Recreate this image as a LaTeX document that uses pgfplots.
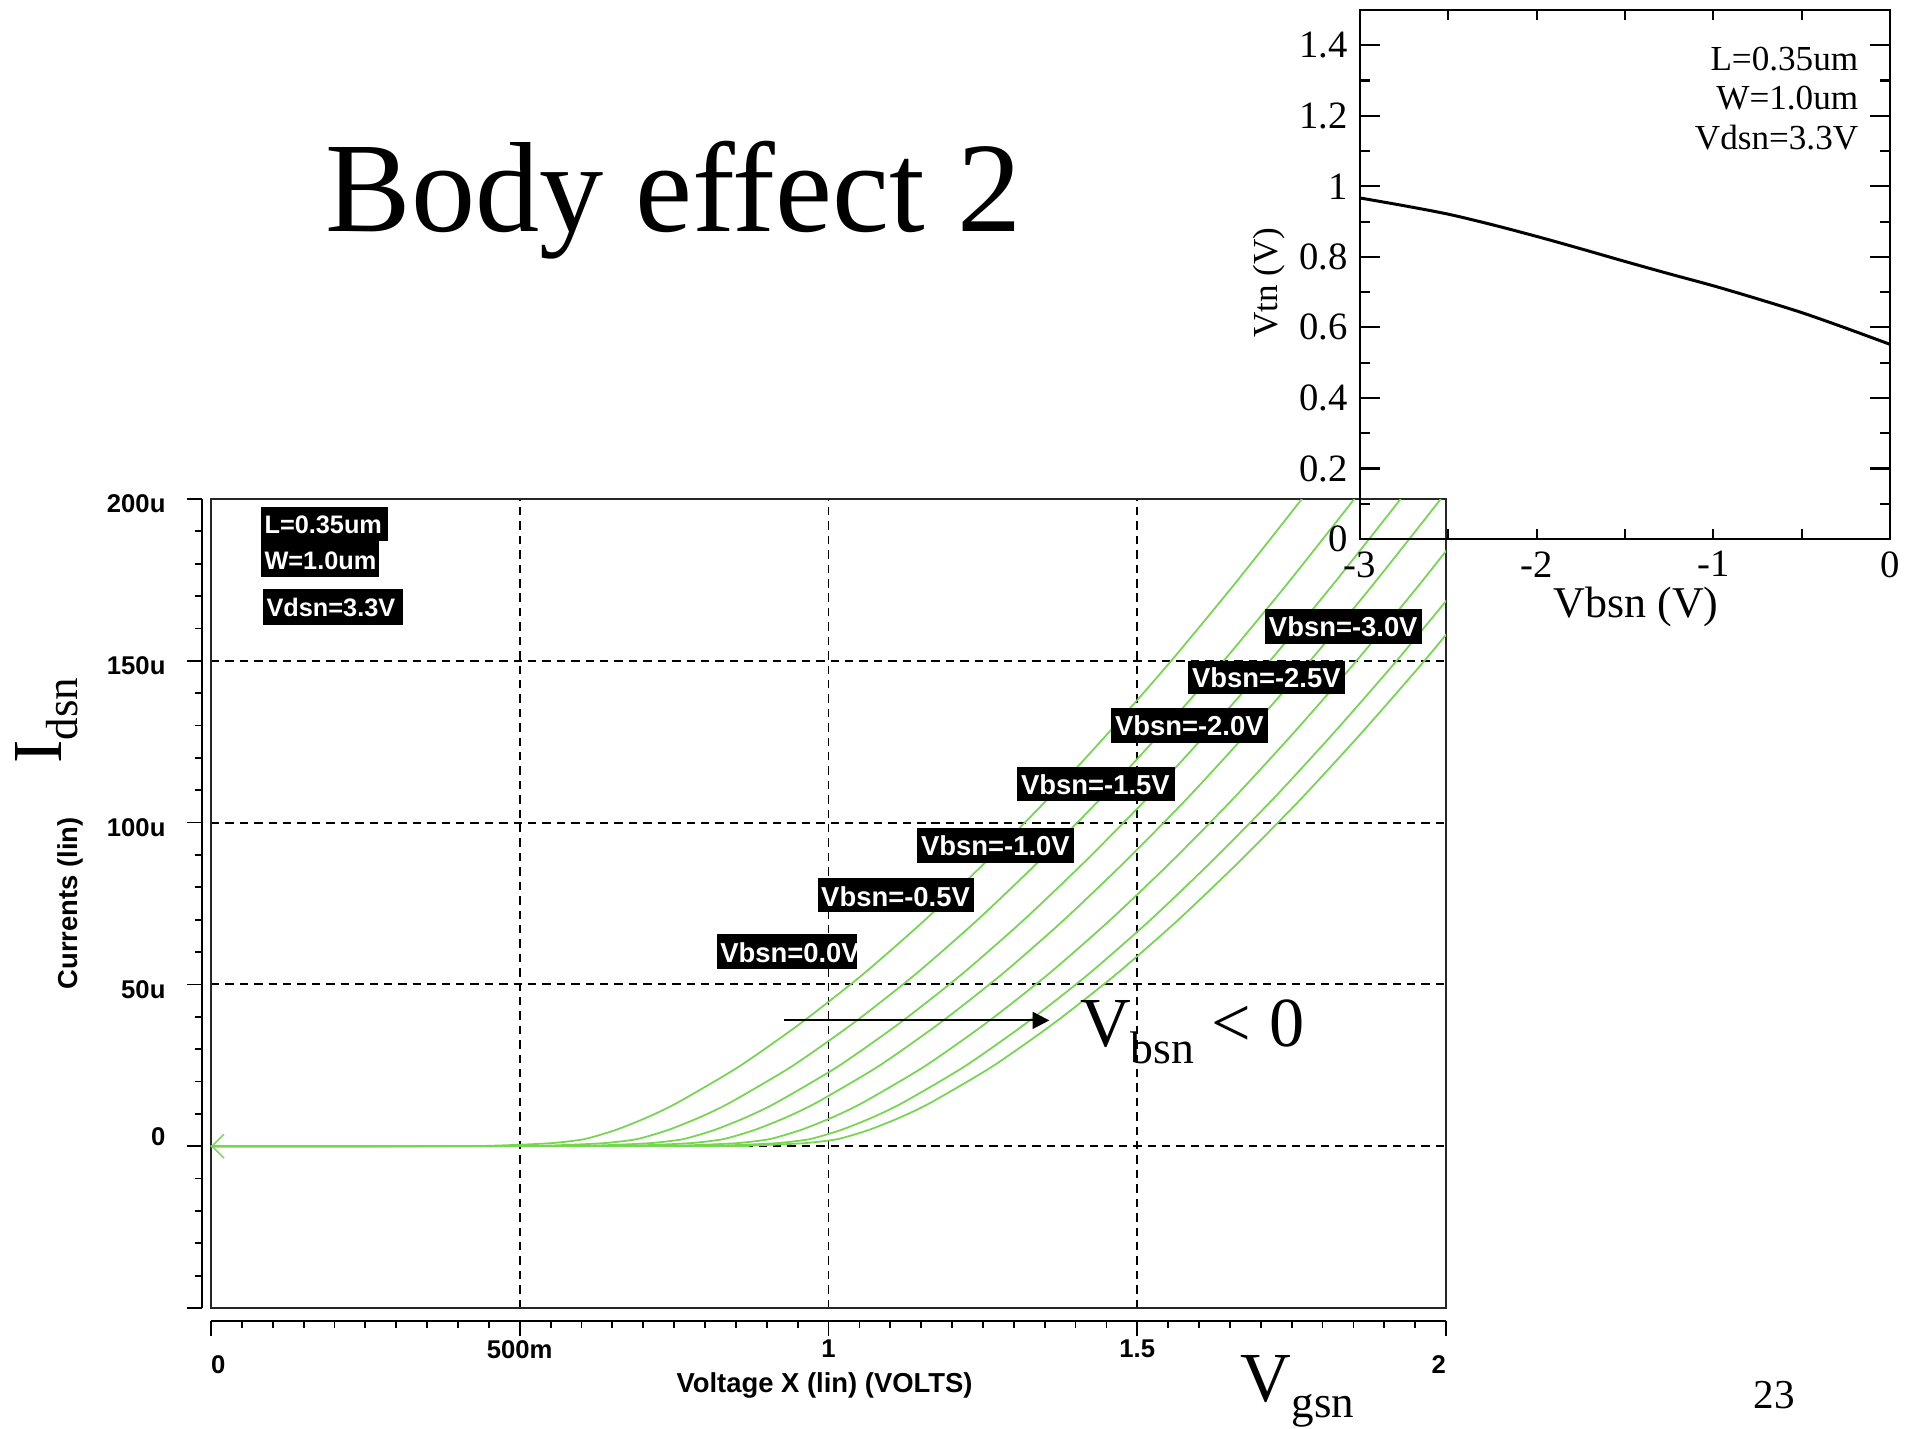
\documentclass[border=0pt]{standalone}
\usepackage{fontspec}
\setmainfont{Liberation Serif}
\newfontfamily\hs{Liberation Sans}
\usepackage{pgfplots}
\pgfplotsset{compat=1.18}
\usetikzlibrary{arrows.meta}

\definecolor{trace}{RGB}{118,214,80}
% HSPICE-style fonts
\newcommand{\hstick}{\hs\bfseries\fontsize{7.3}{8}\selectfont}
\newcommand{\hsbox}{\hs\bfseries\fontsize{7.8}{9}\selectfont}
\newcommand{\hssmall}{\hs\bfseries\fontsize{7.2}{8}\selectfont}

\begin{document}
\begin{tikzpicture}
\fill[white] (0,0) rectangle (19.21cm,-14.29cm);
\path[use as bounding box] (0,0) rectangle (19.21cm,-14.29cm);

% ---------- main Ids-Vgs plot ----------
\begin{axis}[
  at={(2.11cm,-13.08cm)}, anchor=south west,
  scale only axis, width=12.35cm, height=8.09cm,
  xmin=0, xmax=2, ymin=-50, ymax=200,
  xtick={0.5,1,1.5}, ytick={0,50,100,150},
  xticklabels={}, yticklabels={},
  major tick length=0pt,
  grid=major,
  grid style={black, line width=0.55pt, dash pattern=on 2.4pt off 1.7pt},
  axis line style={line width=0.75pt, black!85},
]
\addplot[trace, line width=0.5pt, smooth, tension=0.4, {Straight Barb[length=3.4pt,width=6.8pt,line width=0.4pt]}-]
  coordinates {(0,0)(0.405,0.05)(0.455,0.15)(0.505,0.5)(0.555,1.0)(0.605,2.2)(0.655,5.0)(0.705,8.8)(0.755,13.4)(0.855,24.6)(0.955,38.0)(1.055,53.0)(1.155,69.7)(1.255,87.9)(1.355,107.3)(1.455,128.1)(1.555,150.0)(1.655,173.1)(1.755,197.2)(1.805,209.6)};
\addplot[trace, line width=0.5pt, smooth, tension=0.4]
  coordinates {(0,0)(0.49,0.05)(0.54,0.15)(0.59,0.5)(0.64,1.0)(0.69,2.2)(0.74,5.0)(0.79,8.8)(0.84,13.4)(0.94,24.6)(1.04,38.0)(1.14,53.0)(1.24,69.7)(1.34,87.9)(1.44,107.3)(1.54,128.1)(1.64,150.0)(1.74,173.1)(1.84,197.2)(1.89,209.6)};
\addplot[trace, line width=0.5pt, smooth, tension=0.4]
  coordinates {(0,0)(0.565,0.05)(0.615,0.15)(0.665,0.5)(0.715,1.0)(0.765,2.2)(0.815,5.0)(0.865,8.8)(0.915,13.4)(1.015,24.6)(1.115,38.0)(1.215,53.0)(1.315,69.7)(1.415,87.9)(1.515,107.3)(1.615,128.1)(1.715,150.0)(1.815,173.1)(1.915,197.2)(1.965,209.6)};
\addplot[trace, line width=0.5pt, smooth, tension=0.4]
  coordinates {(0,0)(0.63,0.05)(0.68,0.15)(0.73,0.5)(0.78,1.0)(0.83,2.2)(0.88,5.0)(0.93,8.8)(0.98,13.4)(1.08,24.6)(1.18,38.0)(1.28,53.0)(1.38,69.7)(1.48,87.9)(1.58,107.3)(1.68,128.1)(1.78,150.0)(1.88,173.1)(1.98,197.2)(2.03,209.6)};
\addplot[trace, line width=0.5pt, smooth, tension=0.4]
  coordinates {(0,0)(0.705,0.05)(0.755,0.15)(0.805,0.5)(0.855,1.0)(0.905,2.2)(0.955,5.0)(1.005,8.8)(1.055,13.4)(1.155,24.6)(1.255,38.0)(1.355,53.0)(1.455,69.7)(1.555,87.9)(1.655,107.3)(1.755,128.1)(1.855,150.0)(1.955,173.1)(2.055,197.2)};
\addplot[trace, line width=0.5pt, smooth, tension=0.4]
  coordinates {(0,0)(0.77,0.05)(0.82,0.15)(0.87,0.5)(0.92,1.0)(0.97,2.2)(1.02,5.0)(1.07,8.8)(1.12,13.4)(1.22,24.6)(1.32,38.0)(1.42,53.0)(1.52,69.7)(1.62,87.9)(1.72,107.3)(1.82,128.1)(1.92,150.0)(2.02,173.1)};
\addplot[trace, line width=0.5pt, smooth, tension=0.4]
  coordinates {(0,0)(0.815,0.05)(0.865,0.15)(0.915,0.5)(0.965,1.0)(1.015,2.2)(1.065,5.0)(1.115,8.8)(1.165,13.4)(1.265,24.6)(1.365,38.0)(1.465,53.0)(1.565,69.7)(1.665,87.9)(1.765,107.3)(1.865,128.1)(1.965,150.0)(2.065,173.1)};
\end{axis}

% y ruler
\begin{axis}[
  at={(2.02cm,-13.08cm)}, anchor=south west,
  scale only axis, width=0.5cm, height=8.09cm,
  xmin=0, xmax=1, ymin=-50, ymax=200,
  axis x line=none, axis y line=left,
  axis line style={-, line width=0.6pt},
  tick style={line width=0.5pt, black},
  tick align=outside,
  major tick length=4.27pt, minor tick length=2pt,
  ytick={-50,0,50,100,150,200},
  yticklabels={,,50u,100u,150u,200u},
  minor ytick={-40,-30,-20,-10,10,20,30,40,60,70,80,90,110,120,130,140,160,170,180,190},
  yticklabel style={font=\hstick, anchor=east, xshift=-2.6pt, yshift=-1.4pt},
  extra y ticks={0}, extra y tick labels={0},
  extra y tick style={grid=none, yticklabel style={yshift=4pt}},
]
\end{axis}

% x ruler
\begin{axis}[
  at={(2.11cm,-13.21cm)}, anchor=south west,
  scale only axis, width=12.35cm, height=0.5cm,
  xmin=0, xmax=2, ymin=0, ymax=1,
  axis y line=none, axis x line=bottom,
  axis line style={-, line width=0.6pt},
  tick style={line width=0.5pt, black},
  tick align=outside,
  major tick length=4.27pt, minor tick length=2pt,
  xtick={0.5,1,1.5}, xticklabels={500m,1,1.5},
  minor xtick={0.05,0.1,0.15,0.2,0.25,0.3,0.35,0.4,0.45,0.55,0.6,0.65,0.7,0.75,0.8,0.85,0.9,0.95,1.05,1.1,1.15,1.2,1.25,1.3,1.35,1.4,1.45,1.55,1.6,1.65,1.7,1.75,1.8,1.85,1.9,1.95},
  xticklabel style={font=\hstick, inner sep=1pt},
  extra x ticks={0,2}, extra x tick labels={\makebox[0pt][l]{0},\makebox[0pt][r]{2}},
  extra x tick style={grid=none, xticklabel style={yshift=-4.5pt}},
]
\end{axis}

% ---------- inset Vtn-Vbs plot ----------
\begin{axis}[
  at={(13.60cm,-5.39cm)}, anchor=south west,
  scale only axis, width=5.30cm, height=5.29cm,
  xmin=-3, xmax=0, ymin=0, ymax=1.5,
  xtick={-3,-2,-1,0}, minor xtick={-3,-2.5,-2,-1.5,-1,-0.5,0},
  ytick={0,0.2,0.4,0.6,0.8,1,1.2,1.4},
  minor ytick={0.1,0.3,0.5,0.7,0.9,1.1,1.3},
  major tick length=5.7pt, minor tick length=2.85pt,
  every major x tick/.append style={draw=none},
  tick style={line width=0.6pt, black},
  axis line style={line width=0.74pt},
  ticklabel style={font=\fontsize{11}{12}\selectfont},
  /pgf/number format/assume math mode=true,
]
\addplot[black, line width=0.85pt, smooth]
  coordinates {(-3,0.967)(-2.75,0.945)(-2.5,0.921)(-2.25,0.891)(-2.0,0.858)(-1.75,0.823)(-1.5,0.787)(-1.25,0.752)(-1.0,0.718)(-0.75,0.681)(-0.5,0.642)(-0.25,0.598)(0,0.552)};
\end{axis}

% ---------- texts and annotations (pixel units) ----------
\begin{scope}[x=0.01cm, y=-0.01cm]
\node[anchor=base west, inner sep=0, font=\fontsize{36.5}{40}\selectfont] at (325,232) {Body effect 2};
\node[anchor=base west, inner sep=0, rotate=90, font=\fontsize{20}{22}\selectfont] at (62,765)
  {I\raisebox{-4.5pt}{\fontsize{12.8}{13}\selectfont dsn}};
\node[anchor=base west, inner sep=0, font=\fontsize{20}{22}\selectfont] at (1241,1402)
  {V\raisebox{-4.5pt}{\fontsize{12.8}{13}\selectfont gsn}};
\node[anchor=base west, inner sep=0, font=\fontsize{20}{22}\selectfont] at (1080,1047)
  {V\raisebox{-5pt}{\fontsize{13}{13}\selectfont bsn} < 0};
\node[anchor=base west, inner sep=0, font=\fontsize{11.7}{12}\selectfont] at (1754,1409) {23};

\node[anchor=base, inner sep=0, font=\hsbox] at (825,1393) {Voltage X (lin) (VOLTS)};
\node[anchor=base, inner sep=0, rotate=90, font=\hsbox] at (78,904) {Currents (lin)};

\node[anchor=base, inner sep=0, rotate=90, font=\fontsize{10}{11}\selectfont] at (1278,283) {Vtn (V)};
\node[anchor=base, inner sep=0, font=\fontsize{12.5}{13}\selectfont] at (1637,618) {Vbsn (V)};
\node[anchor=base east, inner sep=0, font=\fontsize{10}{11}\selectfont] at (1860,71) {L=0.35um};
\node[anchor=base east, inner sep=0, font=\fontsize{10}{11}\selectfont] at (1860,110) {W=1.0um};
\node[anchor=base east, inner sep=0, font=\fontsize{10}{11}\selectfont] at (1860,150) {Vdsn=3.3V};

\draw[line width=0.6pt, -{Triangle[length=4.8pt,width=4.8pt]}] (784,1021) -- (1050,1021);

% black HSPICE labels
\tikzset{lab/.style={anchor=west, inner sep=0, text=white, font=\hsbox},
         labs/.style={anchor=west, inner sep=0, text=white, font=\hssmall}}
\fill[black] (261,507) rectangle (388,541);
\fill[black] (261,541) rectangle (379,577);
\fill[black] (263,589) rectangle (403,625);
\node[labs] at (264,525) {L=0.35um};
\node[labs] at (264,561) {W=1.0um};
\node[labs] at (266,608) {Vdsn=3.3V};

\fill[black] (1266,609) rectangle (1423,644);
\node[lab] at (1269,627) {Vbsn=-3.0V};
\fill[black] (1189,661) rectangle (1346,694);
\node[lab] at (1192,678) {Vbsn=-2.5V};
\fill[black] (1112,708) rectangle (1269,743);
\node[lab] at (1115,726) {Vbsn=-2.0V};
\fill[black] (1018,767) rectangle (1176,801);
\node[lab] at (1021,785) {Vbsn=-1.5V};
\fill[black] (918,828) rectangle (1075,863);
\node[lab] at (921,846) {Vbsn=-1.0V};
\fill[black] (818,879) rectangle (975,913);
\node[lab] at (821,897) {Vbsn=-0.5V};
\fill[black] (717,935) rectangle (857,970);
\node[lab] at (720,953) {Vbsn=0.0V};
\end{scope}
\end{tikzpicture}
\end{document}
